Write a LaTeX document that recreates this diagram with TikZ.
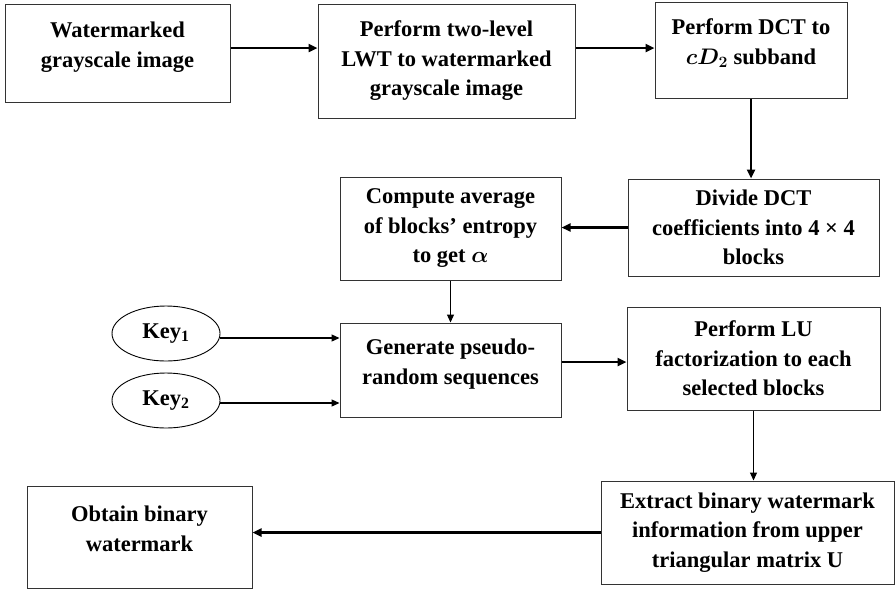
\documentclass[tikz,border=0pt]{standalone}
\usepackage{fix-cm}
\usepackage{fontspec}
\setmainfont{Liberation Serif}
\usetikzlibrary{arrows.meta,shadows,shapes.geometric}

\begin{document}
\begin{tikzpicture}[x=1pt,y=-1pt,
    font=\fontsize{22.5}{29.5}\selectfont\bfseries\boldmath,
    stepbox/.style={draw=black!80,line width=1pt,fill=white,align=center,inner sep=2pt,
        drop shadow={shadow xshift=1pt,shadow yshift=-1.2pt,opacity=.35}},
    twoline/.style={text depth=17pt},
    keynode/.style={draw=black,ellipse,line width=0.9pt,minimum width=108pt,minimum height=55pt,inner sep=0pt},
    fat/.style={line width=2.8pt,-{Triangle[length=9pt,width=8pt]}},
    thin/.style={line width=1.2pt,-{Triangle[length=8pt,width=7pt]}}]
    \useasboundingbox (0,0) rectangle (896,590);

    \node[stepbox,twoline,minimum width=225pt,minimum height=98pt] (wmimg) at (117.5,53) {Watermarked\\grayscale image};
    \node[stepbox,minimum width=257pt,minimum height=114pt] (lwt) at (446.5,61) {Perform two-level\\LWT to watermarked\\grayscale image};
    \node[stepbox,twoline,minimum width=192pt,minimum height=96pt] (dct) at (751,50) {Perform DCT to\\$cD_2$ subband};
    \node[stepbox,minimum width=251pt,minimum height=97pt] (divide) at (753.5,227.5) {Divide DCT\\coefficients into 4 × 4\\blocks};
    \node[stepbox,minimum width=221pt,minimum height=103pt] (avg) at (450.5,228.5) {Compute average\\of blocks’ entropy\\to get $\alpha$};
    \node[stepbox,twoline,minimum width=221pt,minimum height=94pt] (prng) at (450.5,370) {Generate pseudo-\\random sequences};
    \node[stepbox,minimum width=253pt,minimum height=103pt] (lu) at (753.5,358.5) {Perform LU\\factorization to each\\selected blocks};
    \node[stepbox,minimum width=293pt,minimum height=103pt] (extract) at (747.5,532.5) {Extract binary watermark\\information from upper\\triangular matrix U};
    \node[stepbox,twoline,minimum width=225pt,minimum height=102pt] (obtain) at (139.5,537) {Obtain binary\\watermark};
    \node[keynode] (keya) at (166,333.5) {Key\textsubscript{1}};
    \node[keynode] (keyb) at (166,400.5) {Key\textsubscript{2}};

    \draw[fat] ([yshift=5pt]wmimg.east) coordinate (p) -- (p -| lwt.west);
    \draw[fat] ([yshift=13pt]lwt.east) coordinate (q) -- (q -| dct.west);
    \draw[line width=2.4pt,-{Triangle[length=9pt,width=8pt]}] (dct.south) -- (dct.south |- divide.north);
    \draw[fat] (divide.west) -- (divide.west -| avg.east);
    \draw[thin] (avg.south) -- (avg.south |- prng.north);
    \draw[thin] ([yshift=-4.5pt]keya.east) coordinate (k) -- (k -| prng.west);
    \draw[thin] ([yshift=-2.5pt]keyb.east) coordinate (k) -- (k -| prng.west);
    \draw[line width=2.4pt,-{Triangle[length=9pt,width=8pt]}] ([yshift=8pt]prng.east) coordinate (r) -- (r -| lu.west);
    \draw[thin] (lu.south) -- (lu.south |- extract.north);
    \draw[fat] (extract.west) -- (extract.west -| obtain.east);
\end{tikzpicture}
\end{document}
